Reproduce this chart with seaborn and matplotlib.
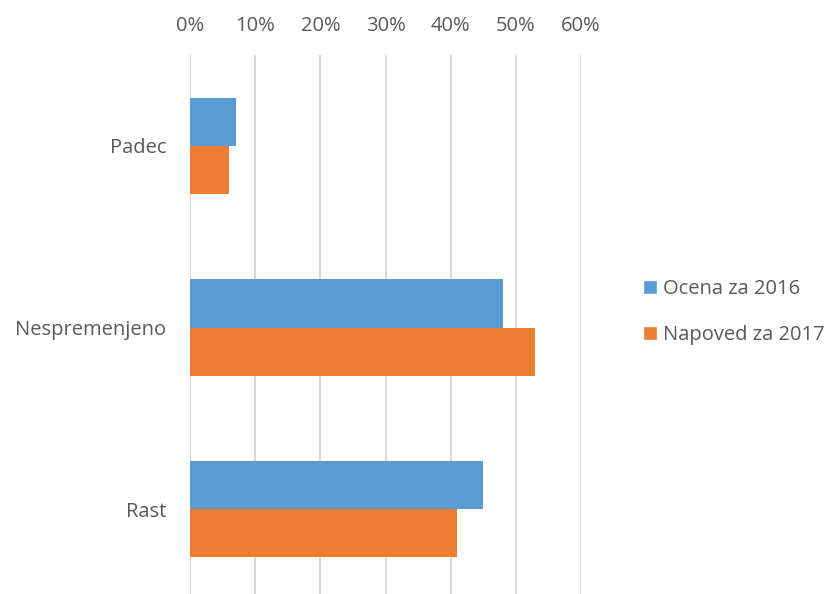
import matplotlib
matplotlib.use("Agg")
import matplotlib.pyplot as plt
import seaborn as sns
import pandas as pd
from matplotlib.patches import Patch
from matplotlib.ticker import PercentFormatter

categories = ["Padec", "Nespremenjeno", "Rast"]
series_names = ["Ocena za 2016", "Napoved za 2017"]
ocena_2016 = [7, 48, 45]
napoved_2017 = [6, 53, 41]
x_ticks = [0, 10, 20, 30, 40, 50, 60]

df = pd.DataFrame({
    "kategorija": categories * 2,
    "serija": [series_names[0]] * 3 + [series_names[1]] * 3,
    "vrednost": ocena_2016 + napoved_2017,
})

sns.set_style("white")
plt.rcParams["font.family"] = ["Open Sans", "DejaVu Sans"]

colors = ["#5B9BD5", "#ED7D31"]
fig = plt.figure(figsize=(8.32, 5.94), dpi=100)
ax = fig.add_axes([190/832, -6/594, 391/832, 545/594])

sns.barplot(data=df, y="kategorija", x="vrednost", hue="serija", order=categories,
            hue_order=series_names, palette=colors, width=0.53, orient="h",
            saturation=1, ax=ax, legend=False, linewidth=0, zorder=3)

ax.set_xlim(0, 60)
ax.set_ylim(2.5, -0.5)
ax.set_xticks(x_ticks)
ax.xaxis.set_major_formatter(PercentFormatter(decimals=0))
ax.xaxis.tick_top()
ax.tick_params(axis="x", length=0, pad=14, labelsize=14.5, labelcolor="#595959")
ax.tick_params(axis="y", length=0, pad=17, labelsize=14.5, labelcolor="#595959")
ax.set_xlabel("")
ax.set_ylabel("")
ax.grid(axis="x", color="#D9D9D9", linewidth=1.5, zorder=0)
ax.set_axisbelow(True)
for s in ax.spines.values():
    s.set_visible(False)

handles = [Patch(facecolor=c, label=n) for c, n in zip(colors, series_names)]
fig.legend(handles=handles, loc="center left", bbox_to_anchor=(643/832, 1 - 312/594),
           frameon=False, fontsize=14.5, labelcolor="#595959", handlelength=0.7,
           handleheight=0.7, handletextpad=0.3, labelspacing=1.3, borderpad=0,
           borderaxespad=0)

fig.savefig("out.png", dpi=100)
